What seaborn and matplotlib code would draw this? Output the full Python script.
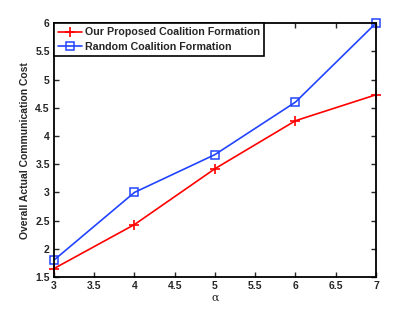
import matplotlib
matplotlib.use('Agg')
import matplotlib.pyplot as plt
import seaborn as sns

# values
alpha = [3, 4, 5, 6, 7]
proposed = [1.65, 2.43, 3.42, 4.27, 4.73]
random_cf = [1.80, 3.00, 3.67, 4.60, 6.00]
series_names = ['Our Proposed Coalition Formation', 'Random Coalition Formation']

sns.set_style('ticks')
plt.rcParams['font.family'] = ['Liberation Sans', 'DejaVu Sans']
plt.rcParams['font.weight'] = 'bold'

fig = plt.figure(figsize=(4.15, 3.12), dpi=100)
ax = fig.add_axes([0.130, 0.112, 0.776, 0.814])

# seaborn won't mix '+' and 's' markers in one call, so draw each series separately
sns.lineplot(x=alpha, y=proposed, color='#ff0000', marker='+', markersize=7,
             markeredgewidth=1.2, linewidth=1.2, label=series_names[0], ax=ax)
sns.lineplot(x=alpha, y=random_cf, color='#2244ff', marker='s', markersize=5.5,
             markerfacecolor='none', markeredgecolor='#2244ff', markeredgewidth=1.1,
             linewidth=1.2, label=series_names[1], ax=ax)
ax.lines[0].set_markeredgecolor('#ff0000')
for line in ax.lines:
    line.set_clip_on(False)

ax.set_xlim(3, 7)
ax.set_ylim(1.5, 6)
ax.set_xticks([3, 3.5, 4, 4.5, 5, 5.5, 6, 6.5, 7])
ax.set_xticklabels(['3', '3.5', '4', '4.5', '5', '5.5', '6', '6.5', '7'])
ax.set_yticks([1.5, 2, 2.5, 3, 3.5, 4, 4.5, 5, 5.5, 6])
ax.set_yticklabels(['1.5', '2', '2.5', '3', '3.5', '4', '4.5', '5', '5.5', '6'])
ax.tick_params(direction='in', top=True, right=True, labelsize=7.5, length=3.5, width=1, pad=3)
for s in ax.spines.values():
    s.set_linewidth(1.3)
    s.set_color('black')

ax.set_xlabel('α', fontsize=8, fontweight='normal', family='DejaVu Serif', labelpad=1)
ax.set_ylabel('Overall Actual Communication Cost', fontsize=7.5, fontweight='bold', labelpad=4)

leg = ax.legend(loc='upper left', borderaxespad=0, fontsize=7.7, fancybox=False,
                framealpha=1, edgecolor='black', handlelength=2.2, handletextpad=0.3,
                borderpad=0.4, labelspacing=0.45)
leg.get_frame().set_linewidth(1.2)
leg.set_zorder(5)

fig.savefig('out.png', dpi=100)
